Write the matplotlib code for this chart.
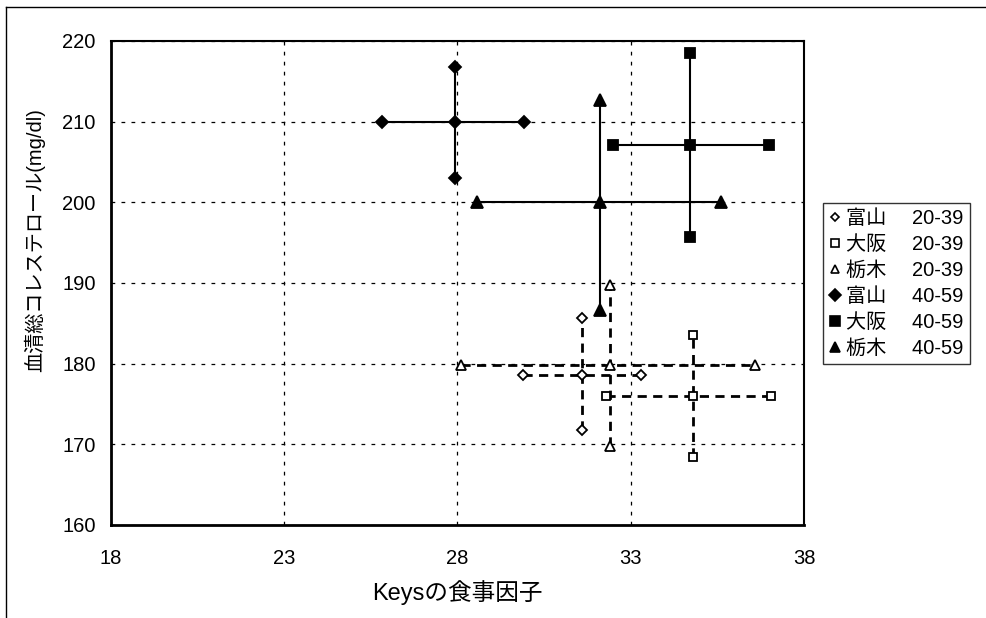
import matplotlib
matplotlib.use("Agg")
import matplotlib.pyplot as plt
from matplotlib.lines import Line2D

plt.rcParams['font.family'] = ['Liberation Sans', 'Noto Sans CJK JP', 'DejaVu Sans']

# Data
labels = ["富山\u3000 20-39", "大阪\u3000 20-39", "栃木\u3000 20-39",
          "富山\u3000 40-59", "大阪\u3000 40-59", "栃木\u3000 40-59"]
center_x = [31.58, 34.80, 32.40, 27.93, 34.71, 32.11]
center_y = [178.6, 176.0, 179.8, 210.0, 207.1, 200.0]
x_low    = [29.90, 32.30, 28.09, 25.82, 32.49, 28.56]
x_high   = [33.30, 37.05, 36.59, 29.92, 36.99, 35.60]
y_low    = [171.8, 168.4, 169.8, 203.0, 195.7, 186.7]
y_high   = [185.6, 183.6, 189.8, 216.8, 218.5, 212.7]

markers = ['D', 's', '^', 'D', 's', '^']
filled = [False, False, False, True, True, True]
msizes = [5, 6, 6.5, 6.5, 7.5, 8]

x_ticks = [18, 23, 28, 33, 38]
y_ticks = [160, 170, 180, 190, 200, 210, 220]

fig = plt.figure(figsize=(9.86, 6.18), dpi=100)
ax = fig.add_axes([111/986, 1-525/618, (804-111)/986, (525-41)/618])

for i in range(6):
    ls = '-' if filled[i] else (0, (3.3, 2.3))
    lw = 1.5 if filled[i] else 2.0
    ax.plot([x_low[i], x_high[i]], [center_y[i], center_y[i]], color='black',
            ls=ls, lw=lw, zorder=3)
    ax.plot([center_x[i], center_x[i]], [y_low[i], y_high[i]], color='black',
            ls=ls, lw=lw, zorder=3)
    xs = [center_x[i], x_low[i], x_high[i], center_x[i], center_x[i]]
    ys = [center_y[i], center_y[i], center_y[i], y_low[i], y_high[i]]
    ax.plot(xs, ys, ls='none', marker=markers[i], ms=msizes[i],
            mfc='black' if filled[i] else 'white', mec='black',
            mew=1.3, zorder=4)

ax.set_xlim(18, 38)
ax.set_ylim(160, 220)
ax.set_xticks(x_ticks)
ax.set_yticks(y_ticks)
ax.grid(True, color='black', ls=(0, (3, 5)), lw=0.9)
ax.set_axisbelow(True)
ax.tick_params(axis='both', labelsize=14.5, length=0)
ax.tick_params(axis='x', pad=17)
ax.tick_params(axis='y', pad=11)
for s in ['left', 'bottom']:
    ax.spines[s].set_linewidth(2.0)
for s in ['top', 'right']:
    ax.spines[s].set_linewidth(1.5)

ax.set_xlabel("Keysの食事因子", fontsize=17)
ax.xaxis.set_label_coords(0.5, -0.114)
ax.set_ylabel("血清総コレステロール(mg/dl)", fontsize=14.5)
ax.yaxis.set_label_coords(-0.095, 0.589)

handles = [Line2D([], [], ls='none', marker=markers[i], ms=msizes[i] - 0.5,
                  mfc='black' if filled[i] else 'white', mec='black', mew=1.2)
           for i in range(6)]
leg = fig.legend(handles, labels, loc='upper left',
                 bbox_to_anchor=(823/986, 1-203/618), fontsize=14.5,
                 frameon=True, fancybox=False, edgecolor='black',
                 handlelength=0.6, handletextpad=0.25, labelspacing=0.35,
                 borderpad=0.3, borderaxespad=0)
leg.get_frame().set_linewidth(1.0)

# outer frame lines (top and left)
fig.add_artist(Line2D([6/986, 1], [1-7/618, 1-7/618], color='black', lw=1.0,
                      transform=fig.transFigure))
fig.add_artist(Line2D([6/986, 6/986], [0, 1-7/618], color='black', lw=1.0,
                      transform=fig.transFigure))

fig.savefig("out.png", dpi=100)
